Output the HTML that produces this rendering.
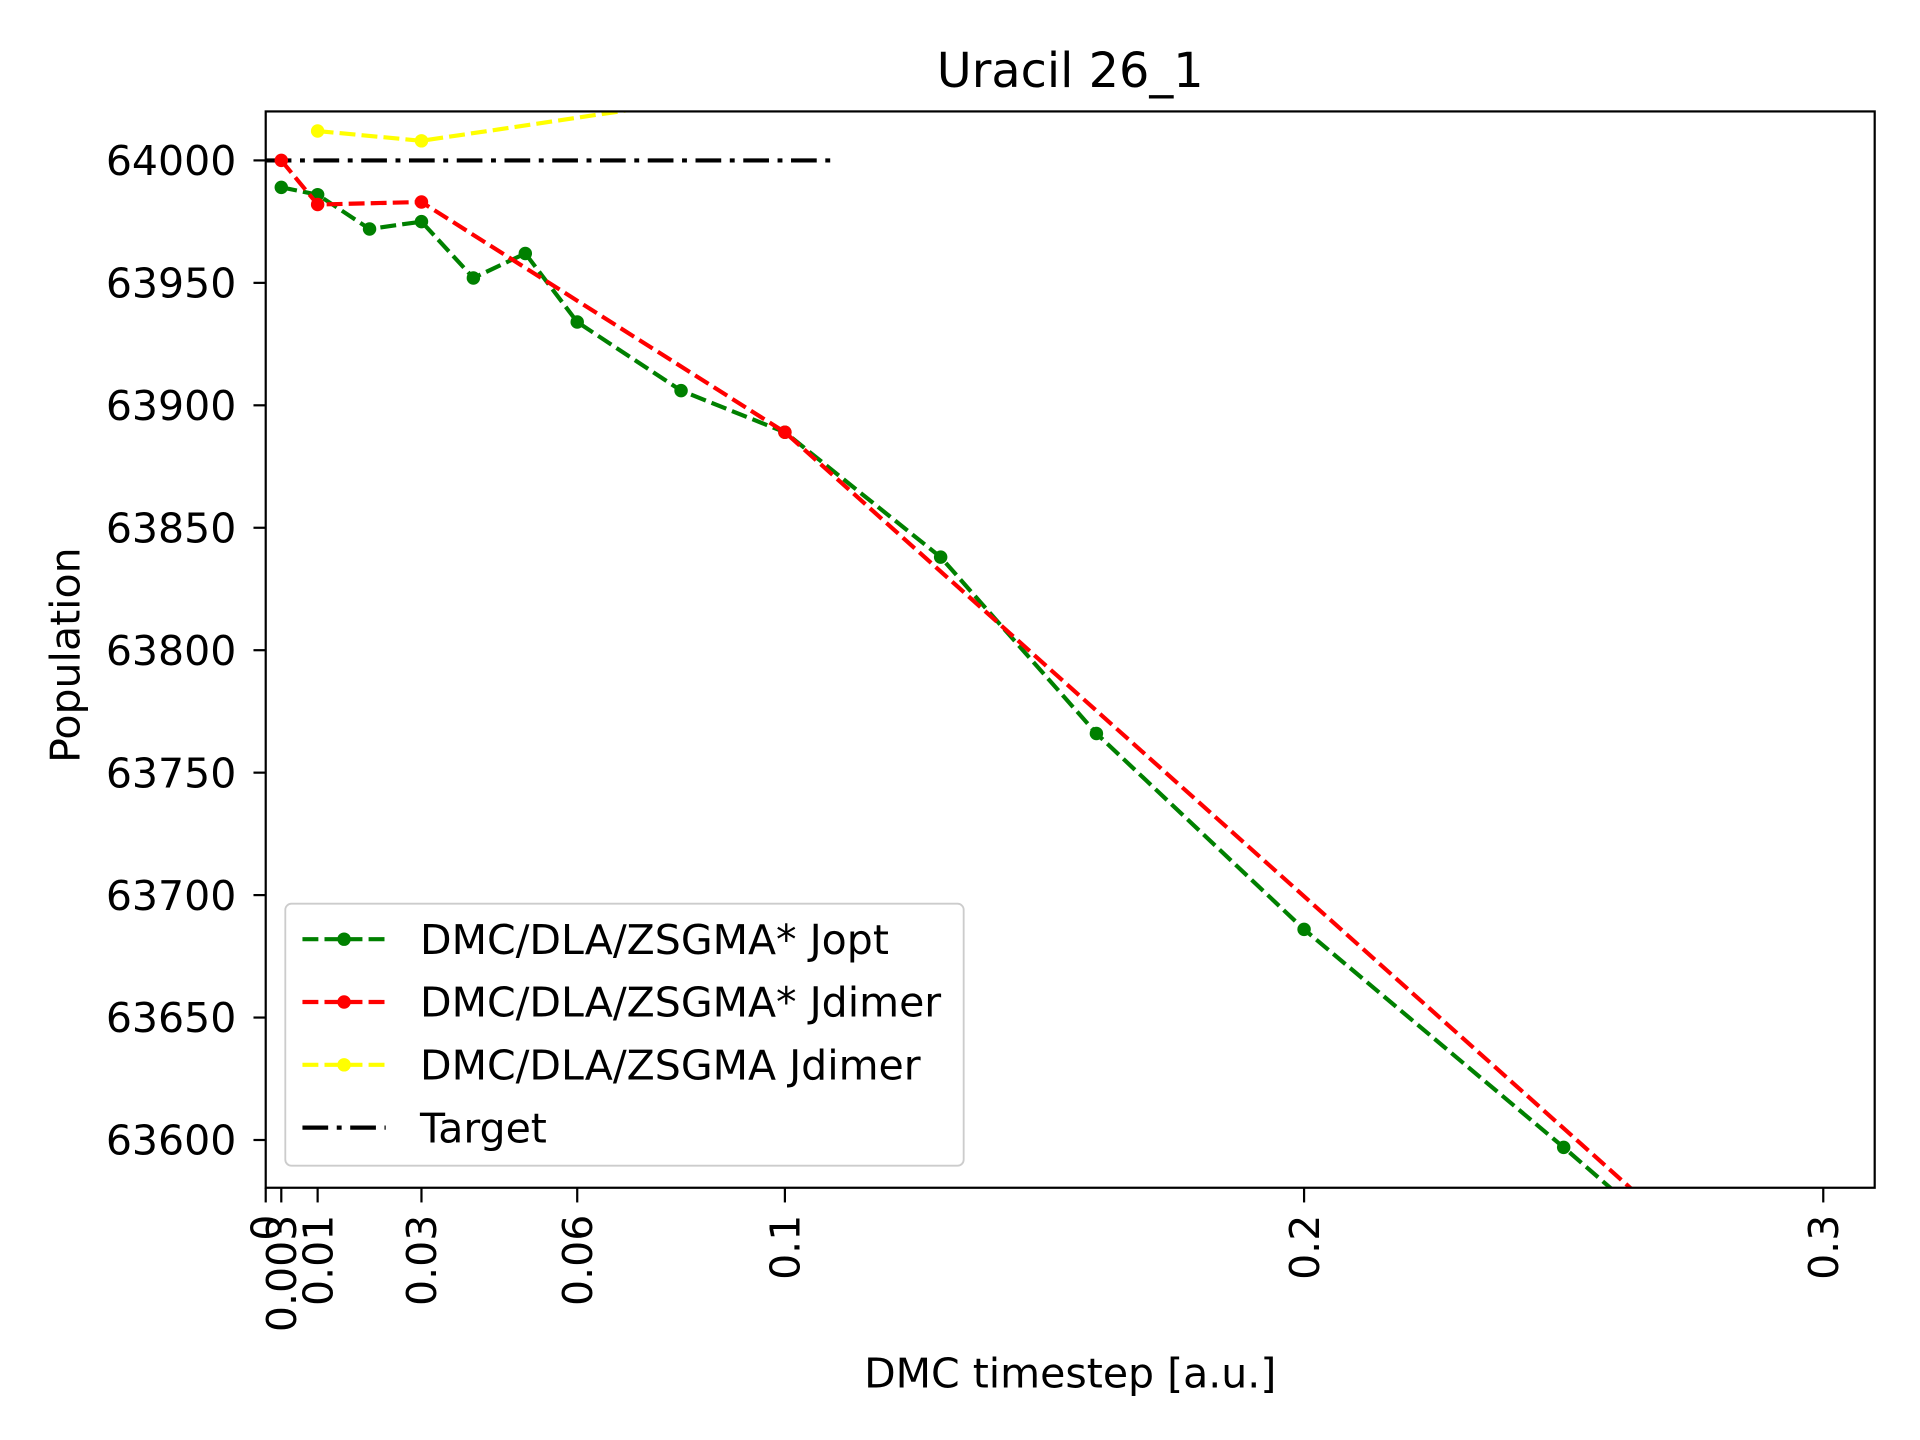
<!DOCTYPE html>
<html><head><meta charset="utf-8"><style>
html,body{margin:0;padding:0;background:#fff;}
svg{display:block;font-family:"DejaVu Sans","Liberation Sans",sans-serif;}
</style></head><body>
<svg id="chart" width="1920" height="1440" viewBox="0 0 1568 1176" xmlns="http://www.w3.org/2000/svg">
<rect width="1568" height="1176" fill="#fff"/>
<defs><clipPath id="plotclip"><rect x="217" y="91" width="1314" height="879"/></clipPath></defs>
<g id="marks" clip-path="url(#plotclip)"></g>
<g id="axes"></g>
<text x="874" y="71" font-size="39" text-anchor="middle">Uracil 26_1</text>
<text x="874" y="1133" font-size="33.5" text-anchor="middle">DMC timestep [a.u.]</text>
<text transform="translate(65,535) rotate(-90)" font-size="33.5" text-anchor="middle">Population</text>
<g id="legend">
<rect x="233" y="738" width="554" height="214" rx="5" fill="#fff" fill-opacity="0.8" stroke="#cccccc" stroke-width="1.5"/>
</g>
</svg>
<script>
const greenX=[0.003,0.01,0.02,0.03,0.04,0.05,0.06,0.08,0.1,0.13,0.16,0.2,0.25,0.3];
const greenY=[63989,63986,63972,63975,63952,63962,63934,63906,63889,63838,63766,63686,63597,63505];
const redX=[0.003,0.01,0.03,0.1,0.3];
const redY=[64000,63982,63983,63889,63510];
const redMarkX=[0.003,0.01,0.03,0.1];
const yellowX=[0.01,0.03,0.1];
const yellowY=[64012,64008,64030];
const targetX=[0,0.11];
const targetY=[64000,64000];
const xTicks=[0,0.003,0.01,0.03,0.06,0.1,0.2,0.3];
const xTickLabels=["0","0.003","0.01","0.03","0.06","0.1","0.2","0.3"];
const yTicks=[63600,63650,63700,63750,63800,63850,63900,63950,64000];

const NS="http://www.w3.org/2000/svg";
const L=217,R=1531,T=91,B=970;
function sx(v){return 217+v*4240;}
function sy(v){return 131+(64000-v)*2;}
function mk(tag,attrs,parent){const e=document.createElementNS(NS,tag);for(const k in attrs)e.setAttribute(k,attrs[k]);parent.appendChild(e);return e;}
const marks=document.getElementById('marks');
const axes=document.getElementById('axes');
const legend=document.getElementById('legend');

function series(xs,ys,color,dash,name){
  const p=mk('polyline',{points:xs.map((x,i)=>sx(x)+','+sy(ys[i])).join(' '),fill:'none',stroke:color,'stroke-width':3.4,'stroke-dasharray':dash},marks);
  
  
}
function dots(xs,ys,color,name){
  xs.forEach((x,i)=>{
    const c=mk('circle',{cx:sx(x),cy:sy(ys[i]),r:5.5,fill:color},marks);
    
    
  });
}
series(targetX,targetY,'#000','21,7,4,7','target');
series(yellowX,yellowY,'#ffff00','13,5','yellow-series');
dots(yellowX,yellowY,'#ffff00','yellow-series');
series(greenX,greenY,'#008000','13,5','green-series');
dots(greenX,greenY,'#008000','green-series');
series(redX,redY,'#ff0000','13,5','red-series');
dots(redMarkX,redY.slice(0,redMarkX.length),'#ff0000','red-series');

const frame=mk('rect',{x:L,y:T,width:R-L,height:B-T,fill:'none',stroke:'#000','stroke-width':1.8},axes);


xTicks.forEach((v,i)=>{
  const x=sx(v);
  const t=mk('line',{x1:x,y1:B,x2:x,y2:B+12,stroke:'#000','stroke-width':1.8},axes);
  
  
  const lb=mk('text',{transform:`translate(${x+12},${B+22}) rotate(-90)`,'font-size':33.5,'text-anchor':'end'},axes);
  lb.textContent=xTickLabels[i];
  
  
});
yTicks.forEach(v=>{
  const y=sy(v);
  const t=mk('line',{x1:L-10,y1:y,x2:L,y2:y,stroke:'#000','stroke-width':1.8},axes);
  
  
  const lb=mk('text',{x:L-24,y:y+12,'font-size':33.5,'text-anchor':'end'},axes);
  lb.textContent=String(v);
  
  
});
const entries=[['DMC/DLA/ZSGMA* Jopt','#008000','13,5',true],['DMC/DLA/ZSGMA* Jdimer','#ff0000','13,5',true],['DMC/DLA/ZSGMA Jdimer','#ffff00','13,5',true],['Target','#000','21,7,4,7',false]];
entries.forEach((e,i)=>{
  const y=767+i*51.3;
  const g=mk('g',{},legend);
  
  
  mk('line',{x1:247,y1:y,x2:315,y2:y,stroke:e[1],'stroke-width':3.4,'stroke-dasharray':e[2]},g);
  if(e[3])mk('circle',{cx:281,cy:y,r:5.5,fill:e[1]},g);
  const tx=mk('text',{x:343,y:y+12,'font-size':33.5},g);
  tx.textContent=e[0];
});
</script>
</body></html>
